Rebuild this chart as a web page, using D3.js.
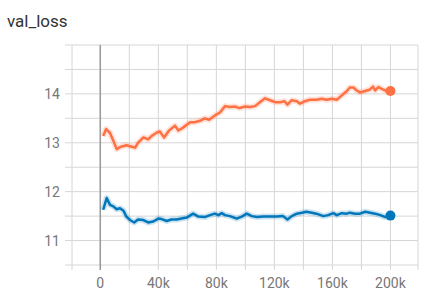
<!DOCTYPE html>
<html>
<head>
<meta charset="utf-8">
<script src="https://cdn.jsdelivr.net/npm/d3@7"></script>
<style>
  body { margin: 0; background: #fff; }
  svg { font-family: Roboto, "Noto Sans", sans-serif; }
</style>
</head>
<body>
<script>
// steps (k) and values
const orangeSteps = [2, 4, 6.7, 9, 11.3, 14.3, 18, 21.7, 24, 26, 29.7, 33, 35.4, 39, 41, 44, 47.4, 51.5, 53.8, 57, 62, 65, 68.8, 72, 75, 79, 82.5, 86, 89.4, 93, 96, 99.5, 103, 106.7, 110, 113.6, 117, 120.5, 124, 127, 129, 132, 135.4, 137.7, 141, 144.6, 149, 152.7, 156, 159.6, 163, 166.5, 170, 172, 174.5, 176.8, 179, 182.6, 186, 188, 189.4, 191.7, 194.8, 197, 200]
const orangeValues = [13.14, 13.28, 13.20, 13.04, 12.87, 12.92, 12.95, 12.92, 12.90, 13.00, 13.11, 13.07, 13.14, 13.21, 13.23, 13.11, 13.25, 13.35, 13.25, 13.31, 13.42, 13.42, 13.45, 13.50, 13.47, 13.56, 13.62, 13.75, 13.73, 13.74, 13.71, 13.74, 13.73, 13.75, 13.83, 13.91, 13.87, 13.83, 13.83, 13.85, 13.78, 13.87, 13.85, 13.80, 13.85, 13.88, 13.88, 13.90, 13.88, 13.90, 13.88, 13.97, 14.06, 14.13, 14.13, 14.07, 14.03, 14.06, 14.09, 14.15, 14.07, 14.14, 14.09, 14.06, 14.06]

const blueSteps = [2, 4.4, 6.7, 9, 11.3, 13.6, 16, 18, 20.5, 23.4, 26, 29.7, 33, 36.5, 40, 42.3, 45.8, 49, 52.7, 56, 59.6, 64, 67.6, 72, 75.6, 79, 81.4, 83.7, 86, 89.4, 94, 97.5, 101, 104.4, 108, 112.4, 117, 121.7, 126, 129, 132, 135.4, 139, 142, 145.8, 149, 153.8, 157, 160.7, 163, 166.5, 170, 172, 175.6, 179, 182.6, 186, 189.4, 193, 196.5, 200]
const blueValues = [11.63, 11.87, 11.73, 11.70, 11.64, 11.66, 11.61, 11.49, 11.42, 11.37, 11.43, 11.42, 11.37, 11.39, 11.45, 11.44, 11.40, 11.43, 11.43, 11.45, 11.47, 11.55, 11.49, 11.48, 11.52, 11.55, 11.52, 11.56, 11.52, 11.50, 11.45, 11.49, 11.55, 11.50, 11.48, 11.49, 11.49, 11.49, 11.50, 11.43, 11.50, 11.55, 11.57, 11.59, 11.57, 11.55, 11.50, 11.52, 11.56, 11.52, 11.56, 11.55, 11.57, 11.55, 11.55, 11.59, 11.57, 11.55, 11.52, 11.48, 11.51]

const yTickValues = [10.5, 11, 11.5, 12, 12.5, 13, 13.5, 14, 14.5, 15]
const yLabels = [11, 12, 13, 14]
const xTickValues = [0, 20000, 40000, 60000, 80000, 100000, 120000, 140000, 160000, 180000, 200000]
const xLabels = [0, 40000, 80000, 120000, 160000, 200000]

const series = [
    { steps: orangeSteps, values: orangeValues, color: "#ff7043" },
    { steps: blueSteps, values: blueValues, color: "#0077bb" },
]

const W = 435, H = 298
const plotLeft = 72, plotRight = 418, plotTop = 45, plotBottom = 265

const x = d3.scaleLinear().domain([-19500, 219000]).range([plotLeft, plotRight])
const y = d3.scaleLinear().domain([10.5, 15]).range([plotBottom, plotTop])

const svg = d3.select("body").append("svg").attr("width", W).attr("height", H)

svg.append("text")
    .attr("x", 7).attr("y", 27)
    .attr("font-size", 17)
    .attr("fill", "#333")
    .text("val_loss")

// horizontal grid
svg.append("g").selectAll("line")
    .data(yTickValues).enter()
    .append("line")
    .attr("x1", plotLeft - 7).attr("x2", plotRight)
    .attr("y1", d => y(d)).attr("y2", d => y(d))
    .attr("stroke", "#d6d6d6")

// vertical grid + borders
svg.append("g").selectAll("line")
    .data(xTickValues.map(d => x(d)).concat([plotLeft, plotRight])).enter()
    .append("line")
    .attr("x1", d => d).attr("x2", d => d)
    .attr("y1", plotTop).attr("y2", plotBottom + 5)
    .attr("stroke", "#d6d6d6")

// zero line
svg.append("line")
    .attr("x1", x(0)).attr("x2", x(0))
    .attr("y1", plotTop).attr("y2", plotBottom + 5)
    .attr("stroke", "#999").attr("stroke-width", 1.5)

svg.append("g").selectAll("text")
    .data(yLabels).enter()
    .append("text")
    .attr("x", 60).attr("y", d => y(d) + 5)
    .attr("text-anchor", "end")
    .attr("font-size", 14)
    .attr("fill", "#777")
    .text(d => d)

const fmt = d => d === 0 ? "0" : (d / 1000) + "k"
svg.append("g").selectAll("text")
    .data(xLabels).enter()
    .append("text")
    .attr("x", d => x(d)).attr("y", 288)
    .attr("text-anchor", "middle")
    .attr("font-size", 14)
    .attr("fill", "#777")
    .text(fmt)

const line = d3.line()
    .x(d => x(d[0] * 1000))
    .y(d => y(d[1]))

series.forEach(s => {
    let pts = s.steps.map((st, i) => [st, s.values[i]])
    // soft halo
    svg.append("path")
        .datum(pts)
        .attr("d", line)
        .attr("fill", "none")
        .attr("stroke", s.color)
        .attr("stroke-opacity", 0.2)
        .attr("stroke-width", 6)
        .attr("stroke-linejoin", "round")
    svg.append("path")
        .datum(pts)
        .attr("d", line)
        .attr("fill", "none")
        .attr("stroke", s.color)
        .attr("stroke-width", 2.5)
        .attr("stroke-linejoin", "round")
    let last = pts[pts.length - 1]
    svg.append("circle")
        .attr("cx", x(last[0] * 1000))
        .attr("cy", y(last[1]))
        .attr("r", 5)
        .attr("fill", s.color)
})
</script>
</body>
</html>
